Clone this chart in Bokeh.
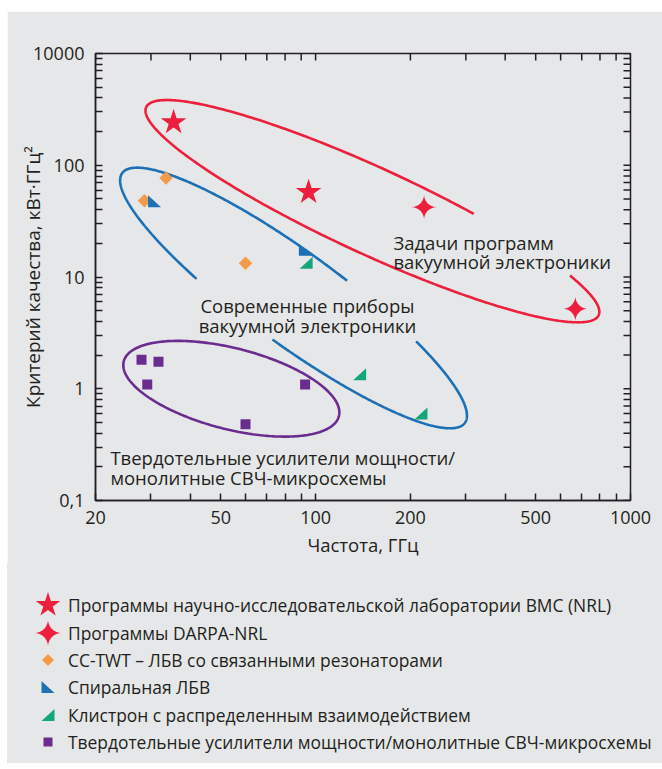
import numpy as np
from bokeh.plotting import figure
from bokeh.models import Range1d, FixedTicker, Label, Spacer, Div
from bokeh.layouts import column, row
from bokeh.embed import file_html
from bokeh.resources import INLINE

# ---------------- data ----------------
nrl_f = [35.4, 95.0]
nrl_q = [242.0, 57.4]
darpa_f = [221.0, 668.0]
darpa_q = [42.2, 5.2]
cctwt_f = [28.6, 33.5, 59.9]
cctwt_q = [48.1, 76.9, 13.3]
helix_f = [30.8, 92.8]
helix_q = [47.7, 17.5]
klys_f = [93.3, 138.0, 216.0]
klys_q = [13.4, 1.35, 0.60]
sspa_f = [28.0, 31.7, 29.2, 59.9, 92.6]
sspa_q = [1.82, 1.74, 1.09, 0.48, 1.09]

x_ticks = [20, 50, 100, 200, 500, 1000]
x_tick_labels = ["20", "50", "100", "200", "500", "1000"]
x_minor = [30, 40, 60, 70, 80, 90, 300, 400, 600, 700, 800, 900]
y_ticks = [0.1, 1, 10, 100, 1000]
y_tick_labels = ["0,1", "1", "10", "100", "10000"]
y_minor = [m * d for d in [0.1, 1, 10, 100] for m in range(2, 10)]

legend_labels = [
    "Программы научно-исследовательской лаборатории ВМС (NRL)",
    "Программы DARPA-NRL",
    "CC-TWT – ЛБВ со связанными резонаторами",
    "Спиральная ЛБВ",
    "Клистрон с распределенным взаимодействием",
    "Твердотельные усилители мощности/монолитные СВЧ-микросхемы",
]

# ellipses: center (data), semi-axes (px), angle (deg), visible arcs (deg)
red_ell = dict(cx=151.5, cy=38.8, a=249, b=43, th=24.7, arcs=[(-34, 292)])
blue_ell = dict(cx=85.1, cy=6.49, a=212, b=46, th=36.1, arcs=[(-54, 88), (115, 279)])
purple_ell = dict(cx=54.0, cy=1.0, a=111, b=40.5, th=14.3, arcs=[(0, 360)])

# ---------------- style ----------------
BG = "#e6e7e8"
INK = "#231f20"
RED = "#ec1f3c"
BLUE = "#1c70b6"
PURPLE = "#6b2c8f"
GREEN = "#12a679"
ORANGE = "#f5994a"
FONT = "Open Sans"

W, H = 655, 552
FW, FH = 535, 447
BL, BT = 88, 42
X0, X1, Y0, Y1 = 20, 1000, 0.1, 1000
KX = FW / np.log10(X1 / X0)
KY = FH / np.log10(Y1 / Y0)
TICK = 7

p = figure(x_axis_type="log", y_axis_type="log",
           x_range=Range1d(X0, X1), y_range=Range1d(Y0, Y1),
           frame_width=FW, frame_height=FH,
           min_border_left=BL, min_border_top=BT, min_border_right=W - BL - FW,
           min_border_bottom=H - BT - FH,
           output_backend="svg", toolbar_location=None)
p.background_fill_color = BG
p.border_fill_color = BG
p.xgrid.visible = False
p.ygrid.visible = False
p.outline_line_color = INK
p.outline_line_width = 1.5


def style_axis(ax, ticks, minor, labels):
    ax.ticker = FixedTicker(ticks=ticks, minor_ticks=minor)
    ax.major_tick_in = TICK
    ax.major_tick_out = 0
    ax.minor_tick_in = TICK
    ax.minor_tick_out = 0
    ax.major_tick_line_color = INK
    ax.minor_tick_line_color = INK
    ax.major_tick_line_width = 1.5
    ax.minor_tick_line_width = 1.5
    ax.axis_line_color = INK
    ax.axis_line_width = 1.5
    ax.major_label_overrides = {t: l for t, l in zip(ticks, labels)}
    ax.major_label_text_font = FONT
    ax.major_label_text_font_size = "18px"
    ax.major_label_text_color = INK
    ax.axis_label_text_font = FONT
    ax.axis_label_text_font_style = "normal"
    ax.axis_label_text_color = INK


xa, ya = p.xaxis[0], p.yaxis[0]
style_axis(xa, x_ticks, x_minor, x_tick_labels)
style_axis(ya, y_ticks, y_minor, y_tick_labels)
xa.major_label_standoff = 10
ya.major_label_standoff = 11
xa.axis_label = "Частота, ГГц"
xa.axis_label_text_font_size = "18.5px"
xa.axis_label_standoff = 5
ya.axis_label = "Критерий качества, кВт·ГГц²"
ya.axis_label_text_font_size = "19px"
ya.axis_label_standoff = -16

# mirrored inward ticks on the top and right edges
all_x = x_ticks + x_minor
all_y = y_ticks + y_minor
p.segment(x0=all_x, x1=all_x, y0=[Y1] * len(all_x),
          y1=[10 ** (np.log10(Y1) - TICK / KY)] * len(all_x),
          line_color=INK, line_width=1.5)
p.segment(x0=[X1] * len(all_y), x1=[10 ** (np.log10(X1) - TICK / KX)] * len(all_y),
          y0=all_y, y1=all_y, line_color=INK, line_width=1.5)


def arc_xy(e, t0, t1, n=300):
    t = np.radians(np.linspace(t0, t1, n))
    th = np.radians(e["th"])
    dx = e["a"] * np.cos(t) * np.cos(th) - e["b"] * np.sin(t) * np.sin(th)
    dy = e["a"] * np.cos(t) * np.sin(th) + e["b"] * np.sin(t) * np.cos(th)
    xs = 10 ** (np.log10(e["cx"]) + dx / KX)
    ys = 10 ** (np.log10(e["cy"]) - dy / KY)
    return xs, ys


for e, col in [(red_ell, RED), (blue_ell, BLUE), (purple_ell, PURPLE)]:
    for t0, t1 in e["arcs"]:
        xs, ys = arc_xy(e, t0, t1)
        p.line(xs, ys, line_color=col, line_width=2.6)


# marker outlines in pixel offsets (dx right, dy down)
def star4(R, k=3.5, n=160):
    t = np.linspace(0, 2 * np.pi, n, endpoint=False)
    c, s = np.cos(t), np.sin(t)
    return list(zip(R * np.sign(c) * np.abs(c) ** k, R * np.sign(s) * np.abs(s) ** k))


def star5(R):
    pts = []
    for k in range(10):
        ang = -np.pi / 2 + k * np.pi / 5
        rad = R if k % 2 == 0 else R * 0.382
        pts.append((rad * np.cos(ang), rad * np.sin(ang)))
    return pts


def rect(w, h, rot=0.0):
    base = [(-w / 2, -h / 2), (w / 2, -h / 2), (w / 2, h / 2), (-w / 2, h / 2)]
    c, s = np.cos(rot), np.sin(rot)
    return [(x * c - y * s, x * s + y * c) for x, y in base]


TRI_W, TRI_H = 13, 12
helix_tri = [(-TRI_W / 2, -TRI_H / 2), (-TRI_W / 2, TRI_H / 2), (TRI_W / 2, TRI_H / 2)]
klys_tri = [(TRI_W / 2, -TRI_H / 2), (TRI_W / 2, TRI_H / 2), (-TRI_W / 2, TRI_H / 2)]
darpa_star = star4(12.5)


def patches_for(fs, qs, pts):
    X, Y = [], []
    for f, q in zip(fs, qs):
        X.append([10 ** (np.log10(f) + dx / KX) for dx, dy in pts])
        Y.append([10 ** (np.log10(q) - dy / KY) for dx, dy in pts])
    return X, Y


p.scatter(sspa_f, sspa_q, marker="square", size=10, fill_color=PURPLE, line_color=None)
X, Y = patches_for(klys_f, klys_q, klys_tri)
p.patches(X, Y, fill_color=GREEN, line_color=None)
p.scatter(cctwt_f, cctwt_q, marker="square", angle=np.pi / 4, size=9.5,
          fill_color=ORANGE, line_color=None)
X, Y = patches_for(helix_f, helix_q, helix_tri)
p.patches(X, Y, fill_color=BLUE, line_color=None)
p.scatter(nrl_f, nrl_q, marker="star", size=27, fill_color=RED, line_color=None)
X, Y = patches_for(darpa_f, darpa_q, darpa_star)
p.patches(X, Y, fill_color=RED, line_color=None)


# in-plot annotations
def lab(x, y, t, align="left"):
    p.add_layout(Label(x=x, y=y, text=t, text_align=align, text_baseline="alphabetic",
                       text_font=FONT, text_font_size="18.5px", text_color=INK))


lab(176.6, 20.2, "Задачи программ")
lab(176.6, 13.7, "вакуумной электроники")
lab(94.2, 5.51, "Современные приборы", "center")
lab(94.2, 3.65, "вакуумной электроники", "center")
lab(22.3, 0.2436, "Твердотельные усилители мощности/")
lab(22.3, 0.1615, "монолитные СВЧ-микросхемы")

# ---------------- legend panel (HTML below the plot) ----------------
LH = 200
rows = [42, 70, 97, 124, 152, 179]
mx, tx = 41, 61
legend_shapes = [
    (star5(13), RED),
    (star4(13.5), RED),
    (rect(8.5, 8.5, np.pi / 4), ORANGE),
    (helix_tri, BLUE),
    (klys_tri, GREEN),
    (rect(9, 9), PURPLE),
]
polys = []
for ry, (shape, col) in zip(rows, legend_shapes):
    pts = " ".join(f"{mx + dx:.2f},{ry + dy:.2f}" for dx, dy in shape)
    polys.append(f'<polygon points="{pts}" fill="{col}"/>')
texts = []
for ry, txt in zip(rows, legend_labels):
    texts.append(
        f'<div style="position:absolute;left:{tx}px;top:{ry - 12}px;height:24px;'
        f'line-height:24px;white-space:nowrap;">{txt}</div>')
html = (
    f'<div style="position:relative;width:{W}px;height:{LH}px;background:{BG};'
    f"font-family:'{FONT}';font-size:17.4px;color:{INK};\">"
    f'<svg style="position:absolute;left:0;top:0;" width="{W}" height="{LH}">'
    + "".join(polys) + "</svg>" + "".join(texts) + "</div>"
)
legend_div = Div(text=html, width=W, height=LH, margin=0, styles={"background-color": BG})

layout = column(Spacer(height=11),
                row(Spacer(width=7), column(p, legend_div, spacing=0), spacing=0),
                spacing=0)
open("out.html", "w").write(file_html(layout, INLINE))
